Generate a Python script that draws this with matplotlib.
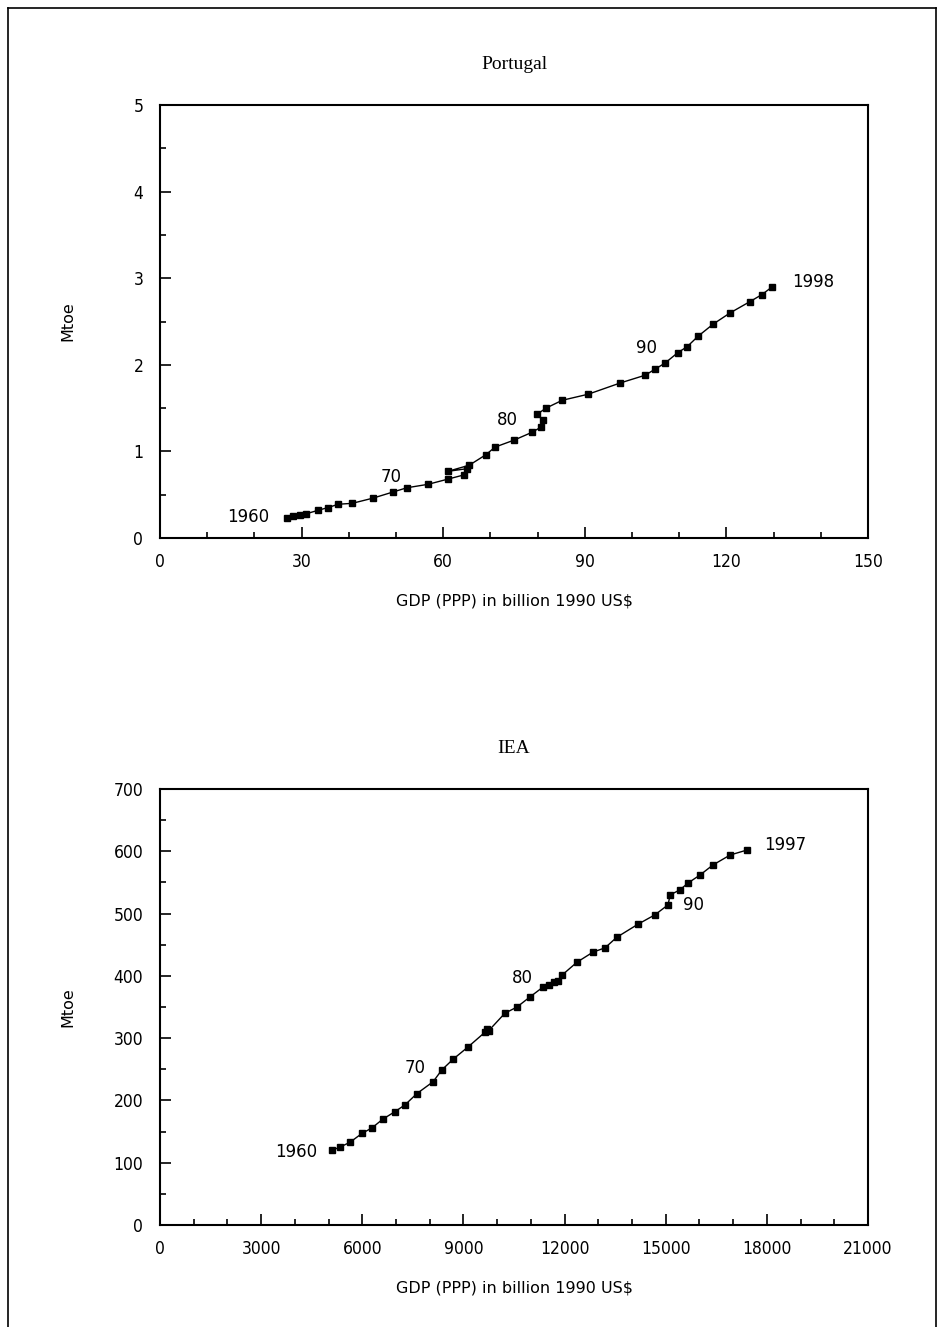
import matplotlib
matplotlib.use("Agg")
import matplotlib.pyplot as plt
from matplotlib.ticker import MultipleLocator
from matplotlib.lines import Line2D

# ---- Portugal data (1960-1998) ----
pt_years = list(range(1960, 1999))
pt_gdp = [26.9, 28.2, 29.6, 31.0, 33.5, 35.5, 37.8, 40.7, 45.1, 49.3,
          52.3, 56.8, 61.0, 64.5, 65.0, 61.0, 65.5, 69.0, 71.0, 75.0,
          78.8, 80.7, 81.1, 79.9, 81.8, 85.2, 90.7, 97.5, 102.8, 104.9,
          107.0, 109.7, 111.7, 114.0, 117.2, 120.8, 125.0, 127.5, 129.7]
pt_mtoe = [0.23, 0.25, 0.26, 0.28, 0.32, 0.35, 0.39, 0.40, 0.46, 0.53,
           0.58, 0.62, 0.68, 0.73, 0.80, 0.77, 0.84, 0.96, 1.05, 1.13,
           1.22, 1.28, 1.36, 1.43, 1.50, 1.59, 1.66, 1.79, 1.88, 1.95,
           2.02, 2.14, 2.21, 2.33, 2.47, 2.60, 2.73, 2.81, 2.90]

# ---- IEA data (1960-1997) ----
iea_years = list(range(1960, 1998))
iea_gdp = [5100, 5340, 5640, 5990, 6290, 6610, 6970, 7270, 7620, 8100,
           8360, 8690, 9140, 9650, 9700, 9750, 10230, 10590, 10970, 11360,
           11550, 11700, 11800, 11920, 12370, 12840, 13200, 13550, 14180, 14680,
           15070, 15130, 15420, 15660, 16020, 16400, 16910, 17410]
iea_mtoe = [120, 125, 133, 147, 156, 170, 182, 193, 211, 230,
            249, 266, 286, 310, 315, 312, 340, 350, 366, 382,
            386, 390, 392, 401, 422, 438, 445, 462, 483, 498,
            514, 530, 538, 549, 562, 578, 594, 602]

pt_xticks = [0, 30, 60, 90, 120, 150]
pt_yticks = [0, 1, 2, 3, 4, 5]
iea_xticks = [0, 3000, 6000, 9000, 12000, 15000, 18000, 21000]
iea_yticks = [0, 100, 200, 300, 400, 500, 600, 700]

# label texts with their placement (data coords)
pt_labels = [("1960", 18.6, 0.24), ("70", 48.9, 0.70), ("80", 73.7, 1.36),
             ("90", 103.0, 2.19), ("1998", 138.3, 2.96)]
iea_labels = [("1960", 4034, 117), ("70", 7563, 252), ("80", 10737, 397),
              ("90", 15838, 514), ("1997", 18538, 610)]

W, H = 944, 1327
fig = plt.figure(figsize=(W / 100, H / 100), dpi=100)
fig.patch.set_facecolor("white")

# outer border
for xs, ys in [([8 / W, 8 / W], [0, 1 - 8 / H]),
               ([8 / W, 936 / W], [1 - 8 / H, 1 - 8 / H]),
               ([936 / W, 936 / W], [0, 1 - 8 / H])]:
    fig.add_artist(Line2D(xs, ys, color="black", lw=1.2, transform=fig.transFigure))

font = "DejaVu Sans"
tfont = "Liberation Serif"


def setup(ax, xticks, yticks, xminor, yminor, title):
    ax.set_xlim(xticks[0], xticks[-1])
    ax.set_ylim(yticks[0], yticks[-1])
    ax.set_xticks(xticks)
    ax.set_yticks(yticks)
    ax.xaxis.set_minor_locator(MultipleLocator(xminor))
    ax.yaxis.set_minor_locator(MultipleLocator(yminor))
    ax.tick_params(which="both", direction="in", top=False, right=False,
                   width=1.2, labelsize=12.5)
    ax.tick_params(which="major", length=8)
    ax.tick_params(which="minor", length=4)
    ax.tick_params(axis="x", pad=11)
    ax.tick_params(axis="y", pad=12)
    for lab in ax.get_xticklabels() + ax.get_yticklabels():
        lab.set_fontfamily(font)
        lab.set_stretch("condensed")
    for s in ax.spines.values():
        s.set_linewidth(1.5)
    ax.set_xlabel("GDP (PPP) in billion 1990 US$", fontsize=11.5, family=font, labelpad=16)
    ax.set_ylabel("Mtoe", fontsize=11.5, family=font)
    ax.yaxis.set_label_coords(-0.12, 0.5)
    ax.set_title(title, fontsize=14, family=tfont, pad=26)


ax1 = fig.add_axes([160 / W, 1 - 538 / H, 708 / W, 433 / H])
ax1.plot(pt_gdp, pt_mtoe, color="black", lw=1.0, marker="s", markersize=4.5)
setup(ax1, pt_xticks, pt_yticks, 10, 0.5, "Portugal")
for t, x, y in pt_labels:
    ax1.text(x, y, t, ha="center", va="center", fontsize=12, family=font)

ax2 = fig.add_axes([160 / W, 1 - 1225 / H, 708 / W, 436 / H])
ax2.plot(iea_gdp, iea_mtoe, color="black", lw=1.0, marker="s", markersize=4.5)
setup(ax2, iea_xticks, iea_yticks, 1000, 50, "IEA")
for t, x, y in iea_labels:
    ax2.text(x, y, t, ha="center", va="center", fontsize=12, family=font)

fig.savefig("out.png", dpi=100, facecolor="white")
